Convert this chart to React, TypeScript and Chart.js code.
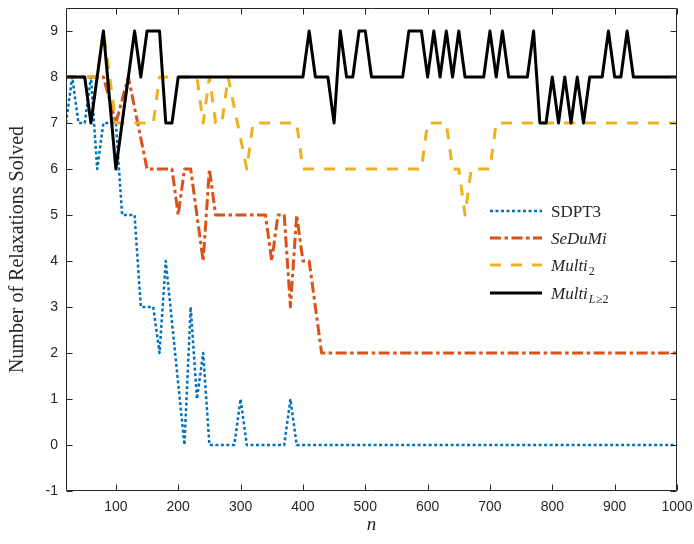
import React, { useEffect, useRef } from "react";
import { Chart, registerables } from "chart.js";

Chart.register(...registerables);

// n values (x axis)
const nValues = [
  20, 30, 40, 50, 60, 70, 80, 90, 100, 110,
  120, 130, 140, 150, 160, 170, 180, 190, 200, 210,
  220, 230, 240, 250, 260, 270, 280, 290, 300, 310,
  320, 330, 340, 350, 360, 370, 380, 390, 400, 410,
  420, 430, 440, 450, 460, 470, 480, 490, 500, 510,
  520, 530, 540, 550, 560, 570, 580, 590, 600, 610,
  620, 630, 640, 650, 660, 670, 680, 690, 700, 710,
  720, 730, 740, 750, 760, 770, 780, 790, 800, 810,
  820, 830, 840, 850, 860, 870, 880, 890, 900, 910,
  920, 930, 940, 950, 960, 970, 980, 990, 1000,
];

const sdpt3 = [
  7, 8, 7, 7, 8, 6, 7, 7, 7, 5,
  5, 5, 3, 3, 3, 2, 4, 2.67, 1.33, 0,
  3, 1, 2, 0, 0, 0, 0, 0, 1, 0,
  0, 0, 0, 0, 0, 0, 1, 0, 0, 0,
  0, 0, 0, 0, 0, 0, 0, 0, 0, 0,
  0, 0, 0, 0, 0, 0, 0, 0, 0, 0,
  0, 0, 0, 0, 0, 0, 0, 0, 0, 0,
  0, 0, 0, 0, 0, 0, 0, 0, 0, 0,
  0, 0, 0, 0, 0, 0, 0, 0, 0, 0,
  0, 0, 0, 0, 0, 0, 0, 0, 0,
];

const sedumi = [
  8, 8, 8, 8, 8, 8, 8, 7.5, 7, 7.5,
  8, 7.33, 6.67, 6, 6, 6, 6, 6, 5, 6,
  6, 5, 4, 6, 5, 5, 5, 5, 5, 5,
  5, 5, 5, 4, 5, 5, 3, 5, 4, 4,
  3, 2, 2, 2, 2, 2, 2, 2, 2, 2,
  2, 2, 2, 2, 2, 2, 2, 2, 2, 2,
  2, 2, 2, 2, 2, 2, 2, 2, 2, 2,
  2, 2, 2, 2, 2, 2, 2, 2, 2, 2,
  2, 2, 2, 2, 2, 2, 2, 2, 2, 2,
  2, 2, 2, 2, 2, 2, 2, 2, 2,
];

const multi2 = [
  8, 8, 8, 8, 8, 8, 9, 8, 7, 7,
  7, 7, 7, 7, 7, 8, 8, 8, 8, 8,
  8, 8, 7, 8, 7, 7, 8, 7.33, 6.67, 6,
  7, 7, 7, 7, 7, 7, 7, 7, 6, 6,
  6, 6, 6, 6, 6, 6, 6, 6, 6, 6,
  6, 6, 6, 6, 6, 6, 6, 6, 7, 7,
  7, 7, 6, 6, 5, 6, 6, 6, 6, 7,
  7, 7, 7, 7, 7, 7, 7, 7, 7, 7,
  7, 7, 7, 7, 7, 7, 7, 7, 7, 7,
  7, 7, 7, 7, 7, 7, 7, 7, 7,
];

const multiL = [
  8, 8, 8, 8, 7, 8, 9, 7.5, 6, 7,
  8, 9, 8, 9, 9, 9, 7, 7, 8, 8,
  8, 8, 8, 8, 8, 8, 8, 8, 8, 8,
  8, 8, 8, 8, 8, 8, 8, 8, 8, 9,
  8, 8, 8, 7, 9, 8, 8, 9, 9, 8,
  8, 8, 8, 8, 8, 9, 9, 9, 8, 9,
  8, 9, 8, 9, 8, 8, 8, 8, 9, 8,
  9, 8, 8, 8, 8, 9, 7, 7, 8, 7,
  8, 7, 8, 7, 8, 8, 8, 9, 8, 8,
  9, 8, 8, 8, 8, 8, 8, 8, 8,
];

const xTicks = [100, 200, 300, 400, 500, 600, 700, 800, 900, 1000];
const yTicks = [-1, 0, 1, 2, 3, 4, 5, 6, 7, 8, 9];
const xTickLabels = ["100", "200", "300", "400", "500", "600", "700", "800", "900", "1000"];
const yTickLabels = ["-1", "0", "1", "2", "3", "4", "5", "6", "7", "8", "9"];

const W = 694;
const H = 544;
const PL = 66;
const PR = 677;
const PT = 8;
const PB = 491;

const BLUE = "#0072BD";
const RED = "#D95319";
const YELLOW = "#EDB120";
const BLACK = "#000000";
const AXIS = "#262626";

const DASH_DOT = [3, 2.5];
const DASH_DASHDOT = [11, 3.5, 3.5, 3.5];
const DASH_DASH = [11, 10];

const SERIF = "'Liberation Serif', 'DejaVu Serif', serif";
const SANS = "'Liberation Sans', Arial, sans-serif";

const axesPlugin = {
  id: "matlabAxes",
  afterDatasetsDraw(chart: any) {
    const { ctx, scales } = chart;
    const xs = scales.x;
    const ys = scales.y;
    const l = Math.round(xs.left) + 0.5;
    const r = Math.round(xs.right) - 0.5;
    const t = Math.round(ys.top) + 0.5;
    const b = Math.round(ys.bottom) - 0.5;
    ctx.save();
    ctx.strokeStyle = AXIS;
    ctx.lineWidth = 1;
    ctx.setLineDash([]);
    ctx.beginPath();
    ctx.rect(l, t, r - l, b - t);
    const tl = 6;
    xTicks.forEach((v) => {
      const px = Math.round(xs.getPixelForValue(v)) + 0.5;
      ctx.moveTo(px, b);
      ctx.lineTo(px, b - tl);
      ctx.moveTo(px, t);
      ctx.lineTo(px, t + tl);
    });
    yTicks.forEach((v) => {
      const py = Math.round(ys.getPixelForValue(v)) + 0.5;
      ctx.moveTo(l, py);
      ctx.lineTo(l + tl, py);
      ctx.moveTo(r, py);
      ctx.lineTo(r - tl, py);
    });
    ctx.stroke();

    // tick labels
    ctx.fillStyle = AXIS;
    ctx.font = `14px ${SANS}`;
    ctx.textAlign = "center";
    ctx.textBaseline = "middle";
    xTicks.forEach((v, i) => {
      ctx.fillText(xTickLabels[i], xs.getPixelForValue(v), 507);
    });
    ctx.textAlign = "right";
    yTicks.forEach((v, i) => {
      ctx.fillText(yTickLabels[i], 58, ys.getPixelForValue(v));
    });

    // axis titles
    ctx.font = `italic 19px ${SERIF}`;
    ctx.textAlign = "center";
    ctx.textBaseline = "alphabetic";
    ctx.fillText("n", (xs.left + xs.right) / 2, 530);

    ctx.save();
    ctx.translate(23, (ys.top + ys.bottom) / 2);
    ctx.rotate(-Math.PI / 2);
    ctx.font = `20px ${SERIF}`;
    ctx.textAlign = "center";
    ctx.textBaseline = "alphabetic";
    ctx.fillText("Number of Relaxations Solved", 0, 0);
    ctx.restore();
    ctx.restore();
  },
};

type Seg = { text: string; italic?: boolean; sub?: boolean };

const legendItems: { color: string; dash: number[]; width: number; segs: Seg[] }[] = [
  { color: BLUE, dash: DASH_DOT, width: 2.5, segs: [{ text: "SDPT3" }] },
  { color: RED, dash: DASH_DASHDOT, width: 3, segs: [{ text: "SeDuMi", italic: true }] },
  {
    color: YELLOW,
    dash: DASH_DASH,
    width: 3,
    segs: [{ text: "Multi", italic: true }, { text: "2", sub: true }],
  },
  {
    color: BLACK,
    dash: [],
    width: 3,
    segs: [
      { text: "Multi", italic: true },
      { text: "L", italic: true, sub: true },
      { text: "≥2", sub: true },
    ],
  },
];

const legendPlugin = {
  id: "mathLegend",
  afterDraw(chart: any) {
    const { ctx } = chart;
    const rows = [211, 238, 265, 293];
    ctx.save();
    legendItems.forEach((it, i) => {
      const y = rows[i];
      ctx.beginPath();
      ctx.strokeStyle = it.color;
      ctx.lineWidth = it.width;
      ctx.setLineDash(it.dash);
      ctx.lineCap = "butt";
      ctx.moveTo(490, y);
      ctx.lineTo(542, y);
      ctx.stroke();
      ctx.setLineDash([]);
      let x = 551;
      ctx.fillStyle = AXIS;
      ctx.textAlign = "left";
      ctx.textBaseline = "alphabetic";
      it.segs.forEach((s) => {
        const size = s.sub ? 12 : 17;
        ctx.font = `${s.italic ? "italic " : ""}${size}px ${SERIF}`;
        const by = y + 6 + (s.sub ? 4 : 0);
        ctx.fillText(s.text, x, by);
        x += ctx.measureText(s.text).width + (s.sub ? 0.5 : 1);
      });
    });
    ctx.restore();
  },
};

export default function App() {
  const canvasRef = useRef<HTMLCanvasElement | null>(null);

  useEffect(() => {
    document.body.style.margin = "0";
    const canvas = canvasRef.current;
    if (!canvas) return;
    const mk = (arr: number[]) => nValues.map((n, i) => ({ x: n, y: arr[i] }));
    const common = {
      pointRadius: 0,
      tension: 0,
      fill: false,
      borderJoinStyle: "round",
      borderCapStyle: "butt",
    };
    const chart = new Chart(canvas, {
      type: "line",
      data: {
        datasets: [
          {
            ...common,
            label: "SDPT3",
            data: mk(sdpt3),
            borderColor: BLUE,
            borderWidth: 2.5,
            borderDash: DASH_DOT,
            order: 4,
          },
          {
            ...common,
            label: "SeDuMi",
            data: mk(sedumi),
            borderColor: RED,
            borderWidth: 3,
            borderDash: DASH_DASHDOT,
            order: 3,
          },
          {
            ...common,
            label: "Multi2",
            data: mk(multi2),
            borderColor: YELLOW,
            borderWidth: 3,
            borderDash: DASH_DASH,
            order: 2,
          },
          {
            ...common,
            label: "MultiL",
            data: mk(multiL),
            borderColor: BLACK,
            borderWidth: 3,
            order: 1,
          },
        ],
      },
      options: {
        responsive: false,
        maintainAspectRatio: false,
        animation: false,
        layout: { padding: { top: PT, right: W - PR, left: 0, bottom: 0 } },
        scales: {
          x: {
            type: "linear",
            min: 20,
            max: 1000,
            afterBuildTicks: (s: any) => {
              s.ticks = xTicks.map((v) => ({ value: v }));
            },
            afterFit: (s: any) => {
              s.height = H - PB;
            },
            grid: { display: false, drawTicks: false },
            border: { display: false },
            ticks: { display: false },
          },
          y: {
            type: "linear",
            min: -1,
            max: 9.5,
            afterBuildTicks: (s: any) => {
              s.ticks = yTicks.map((v) => ({ value: v }));
            },
            afterFit: (s: any) => {
              s.width = PL;
            },
            grid: { display: false, drawTicks: false },
            border: { display: false },
            ticks: { display: false },
          },
        },
        plugins: {
          legend: { display: false },
          tooltip: { enabled: false },
        },
      },
      plugins: [axesPlugin, legendPlugin],
    } as any);
    return () => chart.destroy();
  }, []);

  return (
    <div style={{ position: "relative", width: W, height: H, background: "#fff" }}>
      <canvas ref={canvasRef} width={W} height={H} style={{ display: "block" }} />
    </div>
  );
}
